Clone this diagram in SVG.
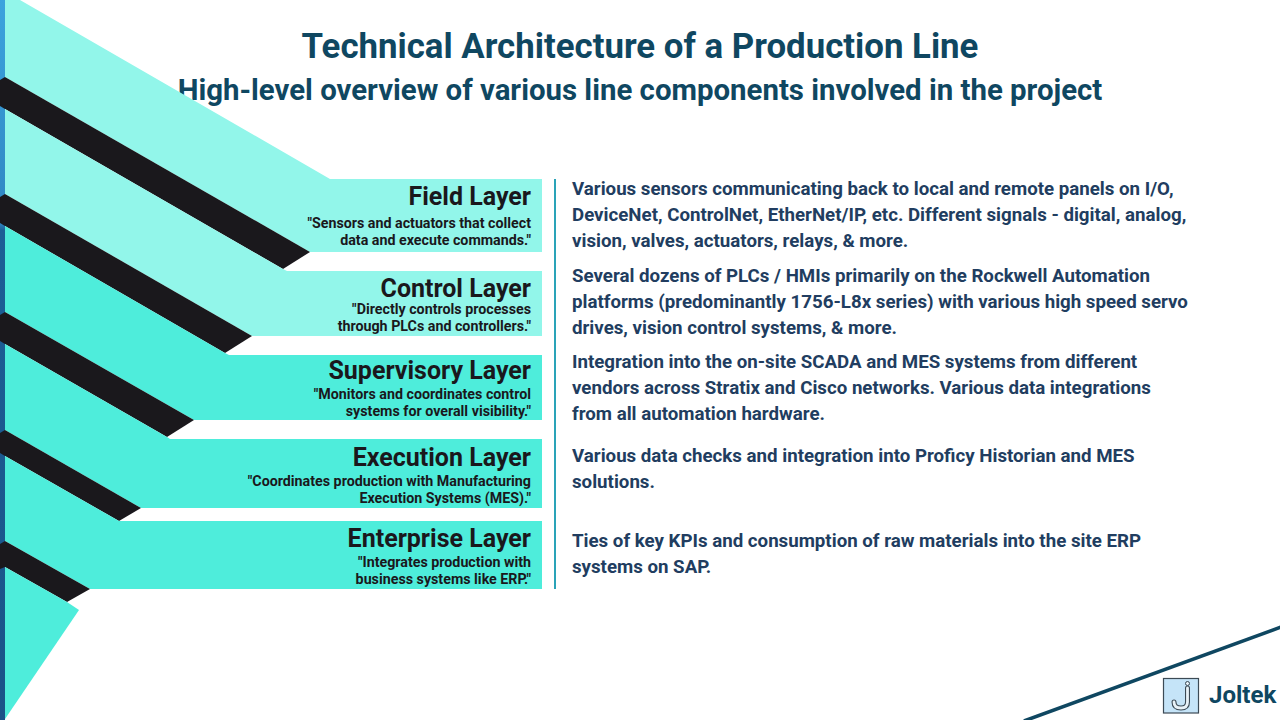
<svg xmlns="http://www.w3.org/2000/svg" width="1280" height="720" viewBox="0 0 1280 720">
<defs><linearGradient id="strip" x1="0" y1="0" x2="0" y2="1"><stop offset="0" stop-color="#3ba3de"/><stop offset="0.31" stop-color="#2f86c2"/><stop offset="0.32" stop-color="#1c5f96"/><stop offset="1" stop-color="#1a5388"/></linearGradient></defs>
<style>
text{font-family:Roboto,"Liberation Sans",sans-serif;}
.t1{font-size:34.8px;font-weight:700;fill:#0f4761;text-anchor:middle}
.t2{font-size:29.4px;font-weight:700;fill:#0f4761;text-anchor:middle}
.h{font-size:25px;font-weight:700;fill:#1a181c;text-anchor:end}
.s{font-size:14.25px;font-weight:700;fill:#1a181c;text-anchor:end}
.d{font-size:18.7px;font-weight:700;fill:#213d60}
.light{fill:#92f6ea}.teal{fill:#4eeddb}.black{fill:#1a181c}
</style>
<rect width="1280" height="720" fill="#fff"/>
<rect id="strip-bar" x="0" y="0" width="5" height="720" fill="url(#strip)"/>
<g id="title"><text class="t1" x="640" y="58">Technical Architecture of a Production Line</text>
<text class="t2" x="640" y="100">High-level overview of various line components involved in the project</text></g>
<g id="field-layer"><polygon class="light" points="5,0 20,0 330,179 542,179 542,252 310,252 5,77"/><polygon class="black" points="0,80 5,77 310,252 283,269 5,109 0,106"/>
<text class="h" x="531" y="205">Field Layer</text><text class="s" x="531" y="228">"Sensors and actuators that collect</text><text class="s" x="531" y="245">data and execute commands."</text></g>
<g id="control-layer"><polygon class="light" points="5,109 283,269 287,271 542,271 542,336 252,336 5,194"/><polygon class="black" points="0,197 5,194 252,336 225,353 5,226 0,223"/>
<text class="h" x="531" y="297">Control Layer</text><text class="s" x="531" y="314">"Directly controls processes</text><text class="s" x="531" y="331">through PLCs and controllers."</text></g>
<g id="supervisory-layer"><polygon class="teal" points="5,226 225,353 229,355 542,355 542,420 194,420 5,312"/><polygon class="black" points="0,315 5,312 194,420 167,437 5,344 0,341"/>
<text class="h" x="531" y="379">Supervisory Layer</text><text class="s" x="531" y="399">"Monitors and coordinates control</text><text class="s" x="531" y="416">systems for overall visibility."</text></g>
<g id="execution-layer"><polygon class="teal" points="5,344 167,437 170,439 542,439 542,508 141,508 5,430"/><polygon class="black" points="0,433 5,430 141,508 119,521 5,456 0,453"/>
<text class="h" x="531" y="466">Execution Layer</text><text class="s" x="531" y="486">"Coordinates production with Manufacturing</text><text class="s" x="531" y="503">Execution Systems (MES)."</text></g>
<g id="enterprise-layer"><polygon class="teal" points="5,456 119,521 542,521 542,589 90,589 5,541"/><polygon class="black" points="0,544 5,541 90,589 67,602 5,567 0,569"/>
<text class="h" x="531" y="547">Enterprise Layer</text><text class="s" x="531" y="567">"Integrates production with</text><text class="s" x="531" y="584">business systems like ERP."</text></g>
<polygon id="tip" class="teal" points="5,567 67,602 79,610 5,719"/>
<g id="connectors"><line x1="555" y1="179" x2="555" y2="589" stroke="#2aa3b8" stroke-width="2"/>
<line x1="1024" y1="721" x2="1281" y2="627" stroke="#0f4761" stroke-width="3.5"/></g>
<g id="descriptions">
<text class="d" x="572" y="195">Various sensors communicating back to local and remote panels on I/O,</text>
<text class="d" x="572" y="221">DeviceNet, ControlNet, EtherNet/IP, etc. Different signals - digital, analog,</text>
<text class="d" x="572" y="247">vision, valves, actuators, relays, &amp; more.</text>
<text class="d" x="572" y="282">Several dozens of PLCs / HMIs primarily on the Rockwell Automation</text>
<text class="d" x="572" y="308">platforms (predominantly 1756-L8x series) with various high speed servo</text>
<text class="d" x="572" y="334">drives, vision control systems, &amp; more.</text>
<text class="d" x="572" y="368">Integration into the on-site SCADA and MES systems from different</text>
<text class="d" x="572" y="394">vendors across Stratix and Cisco networks. Various data integrations</text>
<text class="d" x="572" y="420">from all automation hardware.</text>
<text class="d" x="572" y="462">Various data checks and integration into Proficy Historian and MES</text>
<text class="d" x="572" y="488">solutions.</text>
<text class="d" x="572" y="547">Ties of key KPIs and consumption of raw materials into the site ERP</text>
<text class="d" x="572" y="573">systems on SAP.</text>
</g>
<g id="logo"><rect x="1163.5" y="678.5" width="35" height="34.5" fill="#c5e4f8" stroke="#3c4a55" stroke-width="1.2"/>
<path d="M1187.500 688V702Q1187.500 708 1181 708Q1174 708 1174 702" fill="none" stroke="#3c4a55" stroke-width="5" stroke-linecap="round"/>
<path d="M1187.500 688V702Q1187.500 708 1181 708Q1174 708 1174 702" fill="none" stroke="#e8f2f8" stroke-width="2.800" stroke-linecap="round"/>
<circle cx="1187.500" cy="683.500" r="2" fill="#e8f2f8" stroke="#3c4a55" stroke-width="1"/>
<text x="1209" y="703" font-size="24" font-weight="700" fill="#0f4761">Joltek</text></g>
</svg>
